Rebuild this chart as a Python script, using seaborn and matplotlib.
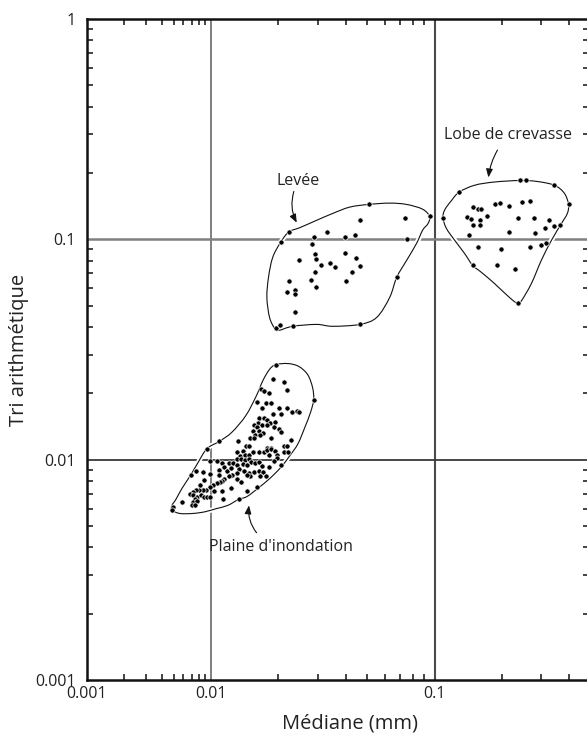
import numpy as np
import pandas as pd
import matplotlib
matplotlib.use("Agg")
import matplotlib.pyplot as plt
import matplotlib.patheffects as pe
import seaborn as sns
from matplotlib.path import Path
from matplotlib.patches import PathPatch
from matplotlib.ticker import FixedLocator, FixedFormatter, NullFormatter

# --- data (median in mm, arithmetic sorting) ---
plaine_mediane = [
    0.0189, 0.0212, 0.0218, 0.0167, 0.0172, 0.0181, 0.0160, 0.0176, 0.0185, 0.0201,
    0.0218, 0.0230, 0.0242, 0.0247, 0.0169, 0.0189, 0.0205, 0.0164, 0.0172, 0.0178,
    0.0183, 0.0193, 0.0162, 0.0169, 0.0178, 0.0156, 0.0160, 0.0191, 0.0201, 0.0205,
    0.0154, 0.0164, 0.0171, 0.0157, 0.0165, 0.0149, 0.0156, 0.0185, 0.0132, 0.0227,
    0.0143, 0.0148, 0.0178, 0.0185, 0.0212, 0.0218, 0.0131, 0.0139, 0.0135, 0.0142,
    0.0148, 0.0154, 0.0164, 0.0172, 0.0178, 0.0185, 0.0193, 0.0212, 0.0221, 0.0197,
    0.0181, 0.0197, 0.0131, 0.0136, 0.0142, 0.0148, 0.0151, 0.0157, 0.0164, 0.0120,
    0.0125, 0.0131, 0.0139, 0.0145, 0.0169, 0.0181, 0.0191, 0.0205, 0.00982, 0.0106,
    0.0112, 0.0115, 0.0109, 0.0118, 0.0123, 0.0133, 0.0140, 0.0148, 0.0156, 0.0164,
    0.0171, 0.0176, 0.0165, 0.0149, 0.0145, 0.0131, 0.0124, 0.0120, 0.0115, 0.0112,
    0.0110, 0.0106, 0.0102, 0.00982, 0.0131, 0.0137, 0.0160, 0.0123, 0.0112, 0.0145,
    0.00911, 0.00862, 0.00800, 0.00757, 0.00716, 0.00677, 0.00716, 0.00771, 0.00830, 0.00878,
    0.00928, 0.00982, 0.00743, 0.00716, 0.00771, 0.0113, 0.00862, 0.00757, 0.00690, 0.00878,
    0.0109, 0.00982, 0.00584, 0.00703, 0.00743, 0.0103, 0.00815,
    0.0195, 0.0288, 0.0109, 0.00928, 0.0133, 0.00494, 0.00485,
]
plaine_tri = [
    0.0233, 0.0224, 0.0208, 0.0210, 0.0206, 0.0200, 0.0183, 0.0180, 0.0180, 0.0172,
    0.0172, 0.0165, 0.0167, 0.0164, 0.0171, 0.0162, 0.0162, 0.0155, 0.0155, 0.0152,
    0.0147, 0.0149, 0.0147, 0.0143, 0.0144, 0.0143, 0.0140, 0.0140, 0.0138, 0.0133,
    0.0135, 0.0135, 0.0132, 0.0130, 0.0129, 0.0126, 0.0125, 0.0126, 0.0122, 0.0123,
    0.0115, 0.0115, 0.0113, 0.0113, 0.0115, 0.0115, 0.0108, 0.0109, 0.0104, 0.0105,
    0.0105, 0.0108, 0.0108, 0.0108, 0.0111, 0.0112, 0.0109, 0.0108, 0.0108, 0.0105,
    0.0105, 0.0102, 0.0101, 0.0101, 0.0100, 0.0101, 0.0098, 0.0097, 0.0098, 0.0097,
    0.0097, 0.0095, 0.0096, 0.0095, 0.0094, 0.0093, 0.0099, 0.0095, 0.0099, 0.0099,
    0.0097, 0.0093, 0.0090, 0.0089, 0.0092, 0.0091, 0.0089, 0.0087, 0.0088, 0.0089,
    0.0088, 0.0084, 0.0084, 0.0084, 0.0085, 0.0087, 0.0085, 0.0084, 0.0082, 0.0080,
    0.0079, 0.0078, 0.0077, 0.0075, 0.0082, 0.0079, 0.0075, 0.0074, 0.0072, 0.0072,
    0.0073, 0.0073, 0.0073, 0.0073, 0.0071, 0.0070, 0.0069, 0.0068, 0.0069, 0.0068,
    0.0068, 0.0068, 0.0066, 0.0064, 0.0065, 0.0066, 0.0088, 0.0089, 0.0085, 0.0081,
    0.0085, 0.0086, 0.0064, 0.0062, 0.0062, 0.0072, 0.0077,
    0.0270, 0.0187, 0.0121, 0.0112, 0.0066, 0.0061, 0.0059,
]

levee_mediane = [
    0.0507, 0.0950, 0.0223, 0.0205, 0.0677, 0.0195, 0.0203, 0.0232, 0.0463,
    0.0463, 0.0735, 0.0329, 0.0440, 0.0288, 0.0397, 0.0750, 0.0282, 0.0247, 0.0291,
    0.0294, 0.0397, 0.0444, 0.0310, 0.0340, 0.0358, 0.0463, 0.0291, 0.0426, 0.0223,
    0.0279, 0.0294, 0.0401, 0.0218, 0.0237, 0.0237, 0.0237,
]
levee_tri = [
    0.144, 0.127, 0.108, 0.0969, 0.0672, 0.0394, 0.0407, 0.0403, 0.0411,
    0.123, 0.125, 0.108, 0.105, 0.102, 0.102, 0.100, 0.0949, 0.0803, 0.0855,
    0.0811, 0.0864, 0.0820, 0.0762, 0.0778, 0.0746, 0.0754, 0.0708, 0.0708, 0.0644,
    0.0651, 0.0605, 0.0644, 0.0574, 0.0586, 0.0562, 0.0466,
]

crevasse_mediane = [
    0.242, 0.255, 0.343, 0.397, 0.129, 0.109, 0.316, 0.148, 0.235,
    0.149, 0.156, 0.162, 0.187, 0.197, 0.216, 0.245, 0.268, 0.140, 0.146,
    0.159, 0.172, 0.148, 0.159, 0.237, 0.279, 0.326, 0.313, 0.343, 0.365,
    0.142, 0.214, 0.282, 0.157, 0.199, 0.268, 0.300, 0.191, 0.228,
]
crevasse_tri = [
    0.185, 0.185, 0.176, 0.144, 0.164, 0.125, 0.0959, 0.0762, 0.0512,
    0.140, 0.137, 0.137, 0.144, 0.146, 0.141, 0.147, 0.150, 0.126, 0.124,
    0.122, 0.127, 0.116, 0.116, 0.125, 0.125, 0.122, 0.113, 0.115, 0.116,
    0.105, 0.108, 0.107, 0.0920, 0.0901, 0.0920, 0.0939, 0.0762, 0.0731,
]

# envelopes drawn around each deposit
plaine_contour_mediane = [0.0195, 0.0221, 0.0247, 0.0271, 0.0285, 0.0288, 0.0279, 0.0263, 0.0245,
                          0.0225, 0.0205, 0.0183, 0.0162, 0.0145, 0.0133, 0.0119, 0.0106, 0.00895,
                          0.00716, 0.00562, 0.00485, 0.00485, 0.00522, 0.00584, 0.00677, 0.00771,
                          0.00928, 0.0109, 0.0124, 0.0143, 0.0159, 0.0171, 0.0183]
plaine_contour_tri = [0.0270, 0.0273, 0.0265, 0.0243, 0.0212, 0.0187, 0.0164, 0.0140, 0.0118,
                      0.0104, 0.0092, 0.0082, 0.0074, 0.0068, 0.0066, 0.0062, 0.0060, 0.0058,
                      0.0057, 0.0057, 0.0059, 0.0062, 0.0066, 0.0074, 0.0084, 0.0095,
                      0.0112, 0.0121, 0.0133, 0.0158, 0.0193, 0.0229, 0.0257]

levee_contour_mediane = [0.0201, 0.0193, 0.0183, 0.0178, 0.0181, 0.0189, 0.0205, 0.0223, 0.0250,
                         0.0297, 0.0350, 0.0417, 0.0507, 0.0630, 0.0750, 0.0884, 0.0950, 0.0935,
                         0.0884, 0.0831, 0.0750, 0.0677, 0.0630, 0.0551, 0.0463, 0.0350, 0.0297, 0.0232]
levee_contour_tri = [0.0386, 0.0394, 0.0442, 0.0545, 0.0672, 0.0828, 0.0969, 0.108, 0.113,
                     0.122, 0.131, 0.140, 0.144, 0.146, 0.144, 0.137, 0.127, 0.118,
                     0.110, 0.0959, 0.0803, 0.0672, 0.0545, 0.0442, 0.0411, 0.0403, 0.0411, 0.0403]

crevasse_contour_mediane = [0.109, 0.111, 0.119, 0.129, 0.151, 0.185, 0.242, 0.288, 0.343, 0.380,
                            0.397, 0.392, 0.369, 0.333, 0.300, 0.271, 0.245, 0.235, 0.216, 0.185,
                            0.162, 0.148, 0.136, 0.123, 0.113]
crevasse_contour_tri = [0.125, 0.136, 0.150, 0.164, 0.176, 0.182, 0.185, 0.183, 0.176, 0.162,
                        0.144, 0.131, 0.118, 0.099, 0.0803, 0.0631, 0.0528, 0.0512, 0.0545, 0.0631,
                        0.0708, 0.0762, 0.0864, 0.099, 0.112]

# labels and their arrows
noms = ["Levée", "Lobe de crevasse", "Plaine d'inondation"]
nom_x = [0.0245, 0.212, 0.0205]
nom_y = [0.184, 0.297, 0.00402]
fleche_de_x = [0.0235, 0.191, 0.0160]
fleche_de_y = [0.165, 0.254, 0.00466]
fleche_a_x = [0.0242, 0.174, 0.0148]
fleche_a_y = [0.119, 0.191, 0.0062]
fleche_courbure = [0.2, 0.1, -0.2]

x_major = [0.001, 0.01, 0.1]
x_major_labels = ["0.001", "0.01", "0.1"]
y_major = [0.001, 0.01, 0.1, 1]
y_major_labels = ["0.001", "0.01", "0.1", "1"]

# the first decade of the original x axis is drawn narrower than the others
K = 124 / 224


def forward(x):
    t = np.log10(np.clip(np.asarray(x, dtype=float), 1e-12, None))
    return np.where(t < -2, -2 + (t + 2) * K, t)


def inverse(u):
    u = np.asarray(u, dtype=float)
    return np.where(u < -2, 10 ** (-2 + (u + 2) / K), 10 ** u)


def smooth_outline(xs, ys):
    # closed Catmull-Rom outline as cubic Bezier segments, built in scaled space
    p = np.column_stack([forward(xs), np.log10(ys)])
    n = len(p)
    verts = [p[0]]
    codes = [Path.MOVETO]
    for i in range(n):
        p0, p1, p2, p3 = p[i - 1], p[i], p[(i + 1) % n], p[(i + 2) % n]
        verts += [p1 + (p2 - p0) / 6, p2 - (p3 - p1) / 6, p2]
        codes += [Path.CURVE4] * 3
    verts = np.array(verts)
    verts = np.column_stack([inverse(verts[:, 0]), 10 ** verts[:, 1]])
    return Path(verts, codes)


df = pd.concat([
    pd.DataFrame({"mediane": plaine_mediane, "tri": plaine_tri, "milieu": "plaine"}),
    pd.DataFrame({"mediane": levee_mediane, "tri": levee_tri, "milieu": "levee"}),
    pd.DataFrame({"mediane": crevasse_mediane, "tri": crevasse_tri, "milieu": "crevasse"}),
], ignore_index=True)

sns.set_style("white")
plt.rcParams["font.family"] = ["Open Sans", "DejaVu Sans"]

fig = plt.figure(figsize=(5.87, 7.35), dpi=100)
ax = fig.add_axes([87 / 587, 55 / 735, 502 / 587, 661 / 735])

sns.scatterplot(data=df, x="mediane", y="tri", color="black", s=14, edgecolor="white",
                linewidth=0.5, legend=False, ax=ax, zorder=4)

ax.set_xscale("function", functions=(forward, inverse))
ax.set_yscale("log")
ax.set_xlim(0.001, 0.49)
ax.set_ylim(0.001, 1)

halo = [pe.Stroke(linewidth=3.5, foreground="white"), pe.Normal()]
for cx, cy in [(plaine_contour_mediane, plaine_contour_tri),
               (levee_contour_mediane, levee_contour_tri),
               (crevasse_contour_mediane, crevasse_contour_tri)]:
    ax.add_patch(PathPatch(smooth_outline(cx, cy), fill=False, edgecolor="#111111", lw=0.8,
                           path_effects=halo, zorder=3))

# decade reference lines
ax.axvline(0.01, color="#6a6a6a", lw=1.2, zorder=1)
ax.axvline(0.1, color="#4a4a4a", lw=1.5, zorder=1)
ax.axhline(0.1, color="#808080", lw=1.8, zorder=1)
ax.axhline(0.01, color="#3a3a3a", lw=1.3, zorder=1)

x_minor = [k * 10.0 ** e for e in (-3, -2, -1) for k in range(2, 10) if k * 10.0 ** e < 0.49]
y_minor = [k * 10.0 ** e for e in (-3, -2, -1) for k in range(2, 10)]
ax.xaxis.set_major_locator(FixedLocator(x_major))
ax.xaxis.set_major_formatter(FixedFormatter(x_major_labels))
ax.xaxis.set_minor_locator(FixedLocator(x_minor))
ax.xaxis.set_minor_formatter(NullFormatter())
ax.yaxis.set_major_locator(FixedLocator(y_major))
ax.yaxis.set_major_formatter(FixedFormatter(y_major_labels))
ax.yaxis.set_minor_locator(FixedLocator(y_minor))
ax.yaxis.set_minor_formatter(NullFormatter())

ax.tick_params(which="major", length=0, labelsize=11.5, labelcolor="#222222")
ax.tick_params(axis="x", which="major", pad=4)
ax.tick_params(axis="y", which="major", pad=8)
ax.tick_params(which="minor", direction="in", length=4, width=1.1, color="#111111",
               top=True, right=True, bottom=True, left=True)

for s in ["left", "bottom", "top"]:
    ax.spines[s].set_linewidth(1.8)
    ax.spines[s].set_color("#111111")
ax.spines["right"].set_visible(False)

ax.set_xlabel("Médiane (mm)", fontsize=14.5, color="#222222")
ax.xaxis.set_label_coords(0.524, -0.05)
ax.set_ylabel("Tri arithmétique", fontsize=14.5, color="#222222")
ax.yaxis.set_label_coords(-0.115, 0.5)

for i, nom in enumerate(noms):
    ax.text(nom_x[i], nom_y[i], nom, ha="center", va="center", fontsize=11.5, color="#222222", zorder=5)
    ax.annotate("", xy=(fleche_a_x[i], fleche_a_y[i]), xytext=(fleche_de_x[i], fleche_de_y[i]),
                arrowprops=dict(arrowstyle="-|>,head_length=0.5,head_width=0.2",
                                connectionstyle=f"arc3,rad={fleche_courbure[i]}",
                                color="#111111", lw=0.8, shrinkA=0, shrinkB=0), zorder=5)

plt.savefig("out.png", dpi=100)
plt.close()
